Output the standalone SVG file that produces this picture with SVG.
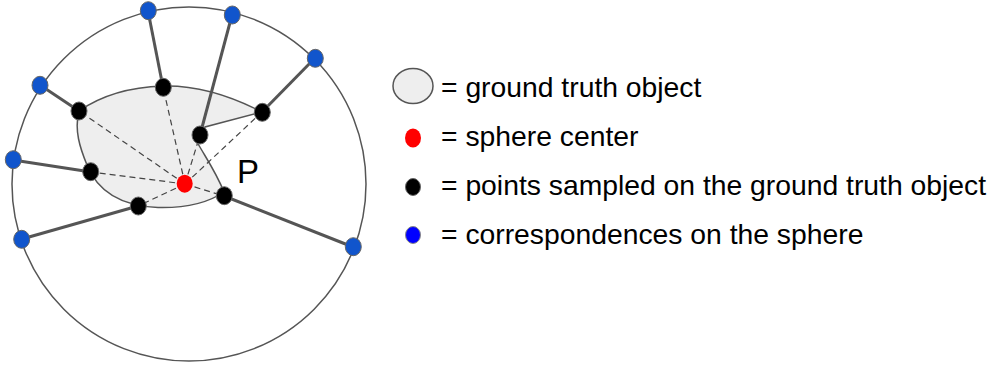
<svg xmlns="http://www.w3.org/2000/svg" width="990" height="369" viewBox="0 0 990 369">
<style>
.sphere{fill:none;stroke:#555;stroke-width:1.5}
.obj{fill:#eeeeee;stroke:#555;stroke-width:1.5}
.solid{stroke:#555;stroke-width:3;fill:none}
.dash{stroke:#444;stroke-width:1.2;stroke-dasharray:6,4;fill:none}
.blue{fill:#1155cc;stroke:#666;stroke-width:1}
.black{fill:#000;stroke:#666;stroke-width:1}
.red{fill:#ff0000;stroke:none}
.lblue{fill:#0000ff;stroke:#888;stroke-width:1}
.t{font-family:"Liberation Sans",Arial,sans-serif;font-size:28.3px;fill:#000}
</style>
<rect width="990" height="369" fill="#fff"/>
<g id="sphere"><circle class="sphere" cx="189" cy="184" r="177"/></g>
<g id="object"><path class="obj" d="M79,111 C102,95 132,87 163,86 C200,85 235,98 262,112 L205,127 L200,135 L197,142 C206,158 216,172 224,192 C205,205 180,208 158,207.5 C120,206 97,190 87,165 C80,148 74,130 79,111 Z"/></g>
<g id="connectors">
<line class="solid" x1="163" y1="87" x2="148" y2="11"/>
<line class="solid" x1="200" y1="135" x2="232" y2="15"/>
<line class="solid" x1="262" y1="112" x2="315" y2="58"/>
<line class="solid" x1="79" y1="111" x2="40" y2="85"/>
<line class="solid" x1="91" y1="172" x2="13" y2="160"/>
<line class="solid" x1="138" y1="206" x2="22" y2="239"/>
<line class="solid" x1="224" y1="196" x2="353" y2="247"/>
<line class="dash" x1="185" y1="184" x2="163" y2="87"/>
<line class="dash" x1="185" y1="184" x2="200" y2="135"/>
<line class="dash" x1="185" y1="184" x2="262" y2="112"/>
<line class="dash" x1="185" y1="184" x2="79" y2="111"/>
<line class="dash" x1="185" y1="184" x2="91" y2="172"/>
<line class="dash" x1="185" y1="184" x2="138" y2="206"/>
<line class="dash" x1="185" y1="184" x2="224" y2="196"/>
</g>
<g id="blue-points">
<ellipse class="blue" cx="148.3" cy="10.7" rx="8" ry="9"/>
<ellipse class="blue" cx="232.3" cy="15" rx="8" ry="9"/>
<ellipse class="blue" cx="315.3" cy="58.3" rx="8" ry="9"/>
<ellipse class="blue" cx="40" cy="85.3" rx="8" ry="9"/>
<ellipse class="blue" cx="13.3" cy="159.7" rx="8" ry="9"/>
<ellipse class="blue" cx="21.7" cy="239.3" rx="8" ry="9"/>
<ellipse class="blue" cx="353.3" cy="246.7" rx="8" ry="9"/>
</g>
<g id="black-points">
<ellipse class="black" cx="163.3" cy="87.3" rx="8" ry="9"/>
<ellipse class="black" cx="79" cy="111" rx="8" ry="9"/>
<ellipse class="black" cx="262.3" cy="112.3" rx="8" ry="9"/>
<ellipse class="black" cx="200" cy="135" rx="8" ry="9"/>
<ellipse class="black" cx="90.7" cy="171.7" rx="8" ry="9"/>
<ellipse class="black" cx="138.3" cy="206" rx="8" ry="9"/>
<ellipse class="black" cx="224.3" cy="195.7" rx="8" ry="9"/>
</g>
<g id="center"><ellipse class="red" cx="184.7" cy="183.7" rx="8" ry="9"/></g>
<g id="label-P"><text class="t" x="237" y="183" style="font-size:33px">P</text></g>
<g id="legend">
<ellipse class="obj" cx="413" cy="86" rx="20" ry="17.5"/>
<text class="t" x="441" y="97">= ground truth object</text>
<ellipse class="red" cx="413" cy="138" rx="8" ry="9.5"/>
<text class="t" x="441" y="146">= sphere center</text>
<ellipse class="black" cx="413" cy="187" rx="7.5" ry="8.5"/>
<text class="t" x="441" y="195">= points sampled on the ground truth object</text>
<ellipse class="lblue" cx="413" cy="235" rx="7.5" ry="8.5"/>
<text class="t" x="441" y="244">= correspondences on the sphere</text>
</g>
</svg>
